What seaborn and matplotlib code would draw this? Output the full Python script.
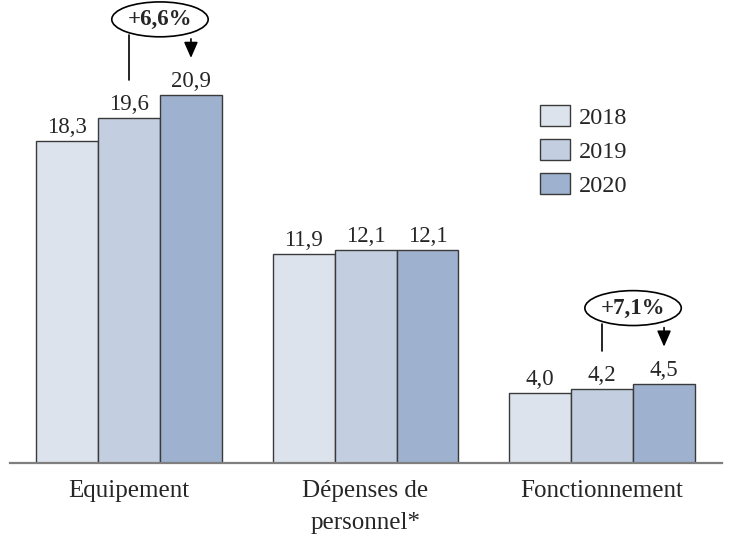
import matplotlib
matplotlib.use("Agg")
import matplotlib.pyplot as plt
import seaborn as sns
import pandas as pd
import numpy as np

categories = ["Equipement", "Dépenses de\npersonnel*", "Fonctionnement"]
years = ["2018", "2019", "2020"]
v2018 = [18.3, 11.9, 4.0]
v2019 = [19.6, 12.1, 4.2]
v2020 = [20.9, 12.1, 4.5]
growth_labels = ["+6,6%", None, "+7,1%"]
colors = ["#dde3ed", "#c3cfe0", "#9eb1cf"]

df = pd.DataFrame({
    "cat": np.repeat(categories, 3),
    "year": years * 3,
    "value": [v for trio in zip(v2018, v2019, v2020) for v in trio],
})

sns.set_theme(style="white")
plt.rcParams["font.family"] = ["Liberation Serif", "DejaVu Serif"]

W, H = 731, 540
fig = plt.figure(figsize=(W / 100, H / 100), dpi=100)
ax = fig.add_axes([10 / W, (H - 463) / H, 712 / W, 463 / H])

group_w = 0.786
sns.barplot(data=df, x="cat", y="value", hue="year", palette=colors,
            width=group_w, edgecolor="#3a3a3a", linewidth=1.0,
            saturation=1, ax=ax, legend=True)

ax.set_xlim(-0.503, 2.507)
ax.set_ylim(0, 26.3)
ax.set_xlabel("")
ax.set_ylabel("")
ax.set_yticks([])
for s in ["top", "left", "right"]:
    ax.spines[s].set_visible(False)
ax.spines["bottom"].set_color("#7f7f7f")
ax.spines["bottom"].set_linewidth(1.6)
ax.tick_params(axis="x", length=0, pad=12, labelsize=18)
for lab in ax.get_xticklabels():
    lab.set_linespacing(1.6)

# value labels
for cont in ax.containers:
    labels = [f"{b.get_height():.1f}".replace(".", ",") for b in cont]
    ax.bar_label(cont, labels=labels, padding=2, fontsize=16.5)

# growth annotations
bw = group_w / 3
series = [v2018, v2019, v2020]
for i, g in enumerate(growth_labels):
    if g is None:
        continue
    y_a = series[1][i]
    y_b = series[2][i]
    x_a = i
    x_b = i + bw
    top = max(y_a, y_b)
    ax.plot([x_a, x_a], [y_a + 2.15, top + 3.4], color="black", lw=1.2)
    ax.annotate("", xy=(x_b, y_b + 1.95), xytext=(x_b, top + 3.35),
                arrowprops=dict(arrowstyle="-|>,head_width=0.35,head_length=0.8",
                                color="black", lw=1.2))
    ax.text(i + bw / 2, top + 4.3, g, ha="center", va="center",
            fontsize=16.5, fontweight="bold",
            bbox=dict(boxstyle="ellipse,pad=0.08", fc="white", ec="black", lw=1.2))

leg = ax.legend(loc="upper left", bbox_to_anchor=(540 / W, 1 - 105 / H),
                bbox_transform=fig.transFigure, frameon=False, fontsize=17.5,
                handlelength=1.23, handleheight=0.95, labelspacing=0.42,
                handletextpad=0.35, borderpad=0, borderaxespad=0)
for p in leg.get_patches():
    p.set_edgecolor("#3a3a3a")

fig.savefig("out.png", dpi=100)
